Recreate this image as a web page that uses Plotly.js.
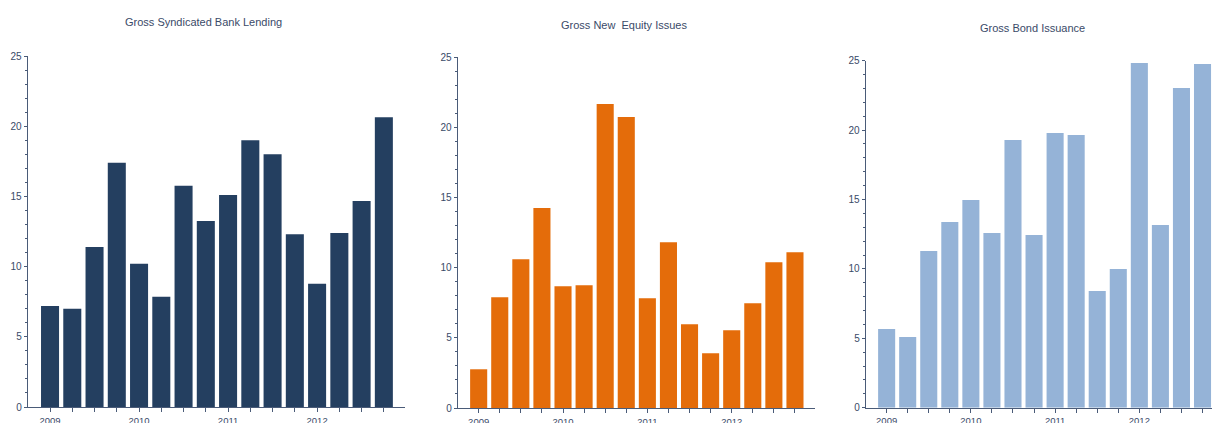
<!DOCTYPE html>
<html><head><meta charset="utf-8">
<script src="https://cdn.plot.ly/plotly-3.0.1.min.js"></script>
<style>html,body{margin:0;padding:0;background:#fff}#c{width:1212px;height:423px}</style>
</head><body><div id="c"></div>
<script>
const quarters = ["2009Q1","2009Q2","2009Q3","2009Q4","2010Q1","2010Q2","2010Q3","2010Q4",
                  "2011Q1","2011Q2","2011Q3","2011Q4","2012Q1","2012Q2","2012Q3","2012Q4"];
const yearLabels = ["2009","","","","2010","","","","2011","","","","2012","","",""];
const bankLending = [7.2,7.0,11.4,17.4,10.2,7.85,15.75,13.25,15.1,19.0,18.0,12.3,8.77,12.4,14.67,20.64];
const equityIssues = [2.76,7.9,10.6,14.25,8.68,8.75,21.67,20.74,7.83,11.82,5.97,3.9,5.54,7.47,10.39,11.11];
const bondIssuance = [5.67,5.09,11.29,13.38,14.96,12.58,19.28,12.44,19.79,19.64,8.41,9.99,24.83,13.16,23.03,24.76];
const titles = ["Gross Syndicated Bank Lending","Gross New\u00a0 Equity Issues","Gross Bond Issuance"];
const yTicks = [0,5,10,15,20,25];

const W = 1212, H = 423;
const FONT = '"Liberation Sans Narrow", "Arial Narrow", "Liberation Sans", Arial, sans-serif';
const axisCol = '#4a5b78', txtCol = '#3a4a68';

function xa(l, r, range, anchor) {
  return {domain:[l/W, r/W], anchor:anchor, type:'category', range:range, showgrid:false, zeroline:false,
    showline:true, linecolor:axisCol, linewidth:1.3, ticks:'outside', ticklen:4, tickcolor:axisCol,
    tickmode:'array', tickvals:quarters, ticktext:yearLabels, tickangle:0,
    tickfont:{family:FONT, size:9.5, color:txtCol}, fixedrange:true};
}
function ya(anchor, bottomPx, topPx) {
  return {domain:[(H-bottomPx)/H, (H-topPx)/H], range:[0,25], anchor:anchor, showgrid:false, zeroline:false,
    showline:true, linecolor:axisCol, linewidth:1.3, ticks:'outside', ticklen:3, tickcolor:axisCol,
    tickmode:'array', tickvals:yTicks, tickfont:{family:FONT, size:10, color:txtCol},
    minor:{ticks:'outside', ticklen:2, tickcolor:axisCol, dtick:1, tick0:0}, fixedrange:true};
}

const traces = [
  {type:'bar', x:quarters, y:bankLending, marker:{color:'#243F60'}, xaxis:'x', yaxis:'y', hoverinfo:'none'},
  {type:'bar', x:quarters, y:equityIssues, marker:{color:'#E46C0A'}, xaxis:'x2', yaxis:'y2', hoverinfo:'none'},
  {type:'bar', x:quarters, y:bondIssuance, marker:{color:'#95B3D7'}, xaxis:'x3', yaxis:'y3', hoverinfo:'none'}
];

function title(i, cx, cy) {
  return {text:titles[i], x:cx/W, y:(H-cy)/H, xref:'paper', yref:'paper', xanchor:'center', yanchor:'middle',
    showarrow:false, font:{family:FONT, size:11, color:txtCol}};
}

const layout = {
  width:W, height:H, margin:{l:0,r:0,t:0,b:0}, showlegend:false, bargap:0.19,
  paper_bgcolor:'#fff', plot_bgcolor:'#fff',
  xaxis: xa(28, 405, [-0.99, 15.95], 'y'),
  yaxis: ya('x', 407, 56),
  xaxis2: xa(458, 815, [-0.98, 15.95], 'y2'),
  yaxis2: ya('x2', 408, 57.3),
  xaxis3: xa(866, 1212, [-0.98, 15.45], 'y3'),
  yaxis3: ya('x3', 407.7, 60.7),
  annotations: [title(0, 203, 22), title(1, 624, 25), title(2, 1032, 28)]
};
Plotly.newPlot('c', traces, layout, {displayModeBar:false, staticPlot:true});
</script></body></html>
